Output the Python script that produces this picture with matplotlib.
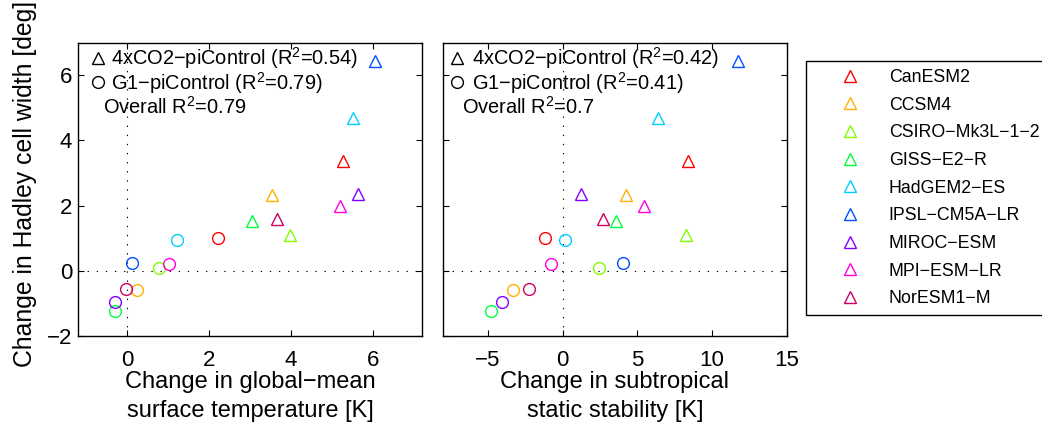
import numpy as np
import matplotlib
matplotlib.use("Agg")
import matplotlib.pyplot as plt
from matplotlib.lines import Line2D

plt.rcParams['font.family'] = ['Liberation Sans', 'DejaVu Sans']
plt.rcParams['mathtext.fontset'] = 'custom'
plt.rcParams['mathtext.rm'] = 'Liberation Sans'
plt.rcParams['mathtext.it'] = 'Liberation Sans'

M = '\u2212'

# Models and colours
models = ['CanESM2', 'CCSM4', 'CSIRO' + M + 'Mk3L' + M + '1' + M + '2', 'GISS' + M + 'E2' + M + 'R',
          'HadGEM2' + M + 'ES', 'IPSL' + M + 'CM5A' + M + 'LR', 'MIROC' + M + 'ESM',
          'MPI' + M + 'ESM' + M + 'LR', 'NorESM1' + M + 'M']
colors = ['#ff0000', '#ffb000', '#80ff00', '#00ff40', '#00d0ff',
          '#0050ff', '#8000ff', '#ff00e0', '#cc0066']

# Change in Hadley cell width [deg]
hc_4xco2 = [3.36, 2.32, 1.09, 1.52, 4.69, 6.43, 2.37, 1.99, 1.59]
hc_g1 = [1.02, -0.59, 0.09, -1.23, 0.96, 0.23, -0.97, 0.20, -0.57]

# Change in global-mean surface temperature [K]
ts_4xco2 = [5.27, 3.55, 3.99, 3.06, 5.53, 6.07, 5.65, 5.20, 3.65]
ts_g1 = [2.22, 0.23, 0.77, -0.31, 1.21, 0.11, -0.29, 1.02, -0.02]

# Change in subtropical static stability [K]
ss_4xco2 = [8.37, 4.24, 8.26, 3.59, 6.41, 11.76, 1.23, 5.42, 2.68]
ss_g1 = [-1.16, -3.35, 2.43, -4.78, 0.16, 4.06, -4.04, -0.80, -2.28]

r2_left = ['0.54', '0.79', '0.79']
r2_right = ['0.42', '0.41', '0.7']

fig = plt.figure(figsize=(10.42, 4.22), dpi=100)
ax1 = fig.add_axes([0.0751, 0.2038, 0.3296, 0.695])
ax2 = fig.add_axes([0.4254, 0.2038, 0.3296, 0.695])

ms = 8.5
mew = 1.0
dots = (1.2, 7)


def draw_panel(ax, x4, xg, r2, xlim, xticks, xlabel, mk_x, txt_x, ov_x):
    ax.axhline(0, color='k', ls=(0, dots), lw=0.8, zorder=1)
    ax.axvline(0, color='k', ls=(0, dots), lw=0.8, zorder=1)
    for i in range(len(models)):
        ax.plot(x4[i], hc_4xco2[i], '^', ms=ms, mfc='none', mec=colors[i], mew=mew, zorder=3)
        ax.plot(xg[i], hc_g1[i], 'o', ms=ms, mfc='none', mec=colors[i], mew=mew, zorder=3)
    ax.set_xlim(xlim)
    ax.set_ylim(-2, 7)
    ax.set_xticks(xticks)
    ax.set_yticks([-2, 0, 2, 4, 6])
    ax.set_xticklabels([str(t).replace('-', M) for t in xticks])
    ax.tick_params(direction='in', top=True, right=True, length=4, labelsize=16, width=0.8)
    ax.tick_params(axis='x', pad=10)
    ax.tick_params(axis='y', pad=4.5)
    ax.set_xlabel(xlabel, fontsize=17, linespacing=1.4, labelpad=0)
    for s in ax.spines.values():
        s.set_linewidth(1.0)

    # in-axes key
    ax.plot(mk_x, 0.948, '^', ms=ms, mfc='none', mec='k', mew=mew, transform=ax.transAxes, clip_on=False)
    ax.plot(mk_x, 0.866, 'o', ms=ms, mfc='none', mec='k', mew=mew, transform=ax.transAxes, clip_on=False)
    ax.text(txt_x, 0.948, '4xCO2' + M + 'piControl (R$^2$=' + r2[0] + ')', transform=ax.transAxes,
            fontsize=14.4, va='center', ha='left')
    ax.text(txt_x, 0.862, 'G1' + M + 'piControl (R$^2$=' + r2[1] + ')', transform=ax.transAxes,
            fontsize=14.4, va='center', ha='left')
    ax.text(ov_x, 0.78, 'Overall R$^2$=' + r2[2], transform=ax.transAxes,
            fontsize=14.4, va='center', ha='left')


draw_panel(ax1, ts_4xco2, ts_g1, r2_left, (-1.2, 7.2), [0, 2, 4, 6],
           'Change in global' + M + 'mean\nsurface temperature [K]', 0.057, 0.095, 0.071)
draw_panel(ax2, ss_4xco2, ss_g1, r2_right, (-8, 15), [-5, 0, 5, 10, 15],
           'Change in subtropical\nstatic stability [K]', 0.039, 0.083, 0.054)

ax1.set_yticklabels([str(t).replace('-', M) for t in [-2, 0, 2, 4, 6]])
ax1.set_ylabel('Change in Hadley cell width [deg]', fontsize=17.8)
ax1.yaxis.set_label_coords(-0.12, 0.518)
ax2.set_yticklabels([])

# Model colour key
handles = [Line2D([], [], ls='none', marker='^', ms=ms, mfc='none', mec=c, mew=mew) for c in colors]
leg = fig.legend(handles, models, loc='upper left', bbox_to_anchor=(806 / 1042, 1 - 61 / 422),
                 borderaxespad=0, fontsize=12.8, handlelength=4.1, handletextpad=0.1,
                 labelspacing=0.6, borderpad=0.45, fancybox=False, edgecolor='k',
                 framealpha=1)
leg.get_frame().set_linewidth(1.0)

fig.savefig('out.png', dpi=100)
